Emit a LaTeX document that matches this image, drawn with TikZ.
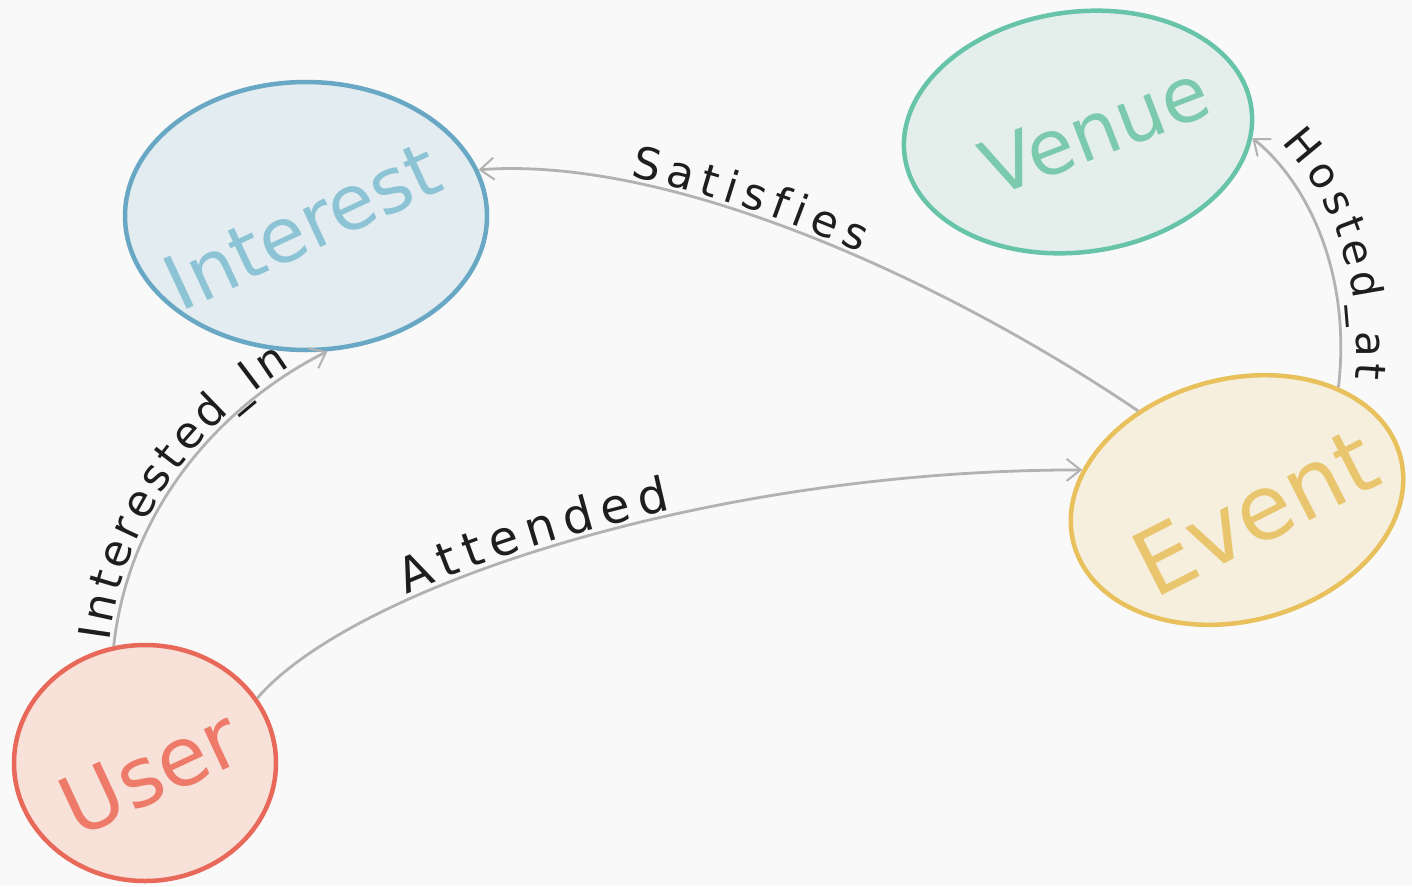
\documentclass[tikz,border=0pt]{standalone}
\usepackage{fontspec}
\setmainfont{DejaVu Sans}
\newfontfamily\namefont{DejaVu Sans}
\newfontfamily\edgefont{DejaVu Sans}
\usetikzlibrary{shapes.geometric,arrows.meta,decorations.text}

\definecolor{paper}{RGB}{249,249,249}
\definecolor{linkgray}{RGB}{178,178,178}
\definecolor{ink}{RGB}{30,30,30}
% interest (blue)
\definecolor{intLine}{RGB}{104,168,196}
\definecolor{intFill}{RGB}{227,236,240}
\definecolor{intText}{RGB}{140,196,214}
% venue (green)
\definecolor{venLine}{RGB}{104,196,168}
\definecolor{venFill}{RGB}{228,239,235}
\definecolor{venText}{RGB}{124,202,174}
% event (yellow)
\definecolor{evtLine}{RGB}{232,192,92}
\definecolor{evtFill}{RGB}{246,239,222}
\definecolor{evtText}{RGB}{233,198,110}
% user (red)
\definecolor{usrLine}{RGB}{232,104,90}
\definecolor{usrFill}{RGB}{247,225,216}
\definecolor{usrText}{RGB}{238,122,106}

\begin{document}
\begin{tikzpicture}[x=1pt,y=-1pt,
  blob/.style={ellipse, line width=4.5pt, inner sep=0pt},
  nametext/.style={inner sep=0pt, font=\fontsize{#1}{#1}\namefont},
  link/.style={draw=linkgray, line width=2.8pt,
    -{Straight Barb[length=14pt,width=22pt,line width=2pt]}},
  edgelabel/.style={decorate, decoration={text along path, text color=ink, raise=#1}},
  edgelabel/.default=5pt]

% sheet
\fill[paper] (0,0) rectangle (1412,886);
\useasboundingbox (0,0) rectangle (1412,886);

% entities
\node[blob, draw=intLine, fill=intFill, minimum width=362pt, minimum height=268pt] (Interest) at (306,216) {};
\node[blob, draw=venLine, fill=venFill, minimum width=350pt, minimum height=240pt, rotate=8] (Venue) at (1078,132) {};
\node[blob, draw=evtLine, fill=evtFill, minimum width=338pt, minimum height=242pt, rotate=15] (Event) at (1237,500) {};
\node[blob, draw=usrLine, fill=usrFill, minimum width=262pt, minimum height=236pt] (User) at (145,763) {};

% entity names
\node[nametext=76, text=intText, rotate=25] (InterestName) at (302,226) {Interest};
\node[nametext=76, text=venText, rotate=21] (VenueName) at (1095,130) {Venue};
\node[nametext=90, text=evtText, rotate=27] (EventName) at (1255,512) {Event};
\node[nametext=82, text=usrText, rotate=25] (UserName) at (150,772) {User};

% relations
\draw[link] (User.105) .. controls (130,500) and (230,400) .. (Interest.-81);
\draw[link] (User.30) .. controls (350,590) and (700,470) .. (Event.154);
\draw[link] (Event.123) .. controls (960,290) and (680,155) .. (Interest.15);
\draw[link] (Event.33) .. controls (1352,270) and (1305,180) .. (Venue.-10);

% relation names, set letter by letter along the curves with wide tracking
\path[edgelabel, decoration={text={|\fontsize{44}{44}\edgefont|{I\kern4pt}{n\kern4pt}{t\kern4pt}{e\kern4pt}{r\kern4pt}{e\kern4pt}{s\kern4pt}{t\kern4pt}{e\kern4pt}{d\kern4pt}{\_\kern4pt}{I\kern4pt}n},
    text align={left indent=4pt}}]
  (User.105) .. controls (130,500) and (230,400) .. (Interest.-81);
\path[edgelabel, decoration={text={|\fontsize{48}{48}\edgefont|{A\kern8pt}{t\kern8pt}{t\kern8pt}{e\kern8pt}{n\kern8pt}{d\kern8pt}{e\kern8pt}d},
    text align={left indent=182pt}}]
  (User.30) .. controls (350,590) and (700,470) .. (Event.154);
\path[edgelabel, decoration={text={|\fontsize{44}{44}\edgefont|{S\kern7pt}{a\kern7pt}{t\kern7pt}{i\kern7pt}{s\kern7pt}{f\kern7pt}{i\kern7pt}{e\kern7pt}s},
    text align={left indent=152pt}}]
  (Interest.15) .. controls (680,155) and (960,290) .. (Event.123);
\path[edgelabel=16pt, decoration={text={|\fontsize{42}{42}\edgefont|{H\kern4pt}{o\kern4pt}{s\kern4pt}{t\kern4pt}{e\kern4pt}{d\kern4pt}{\_\kern4pt}{a\kern4pt}t},
    text align={left indent=22pt}}]
  (Venue.-10) .. controls (1305,180) and (1352,270) .. (Event.33);
\end{tikzpicture}
\end{document}
